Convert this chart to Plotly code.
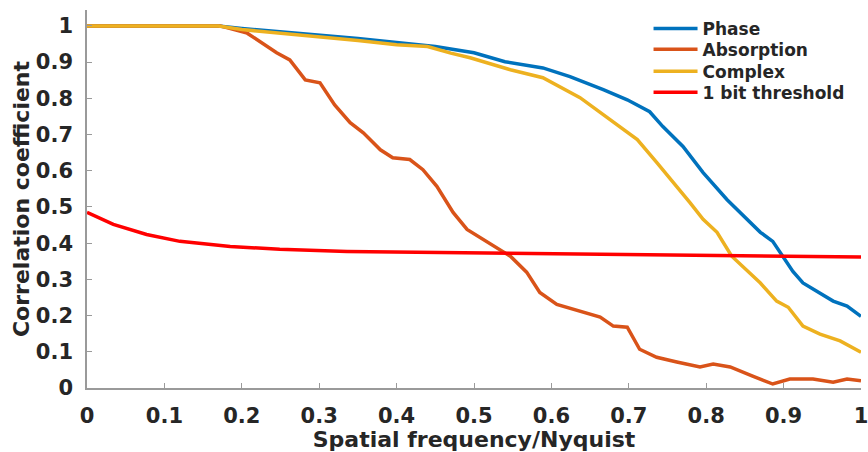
import plotly.graph_objects as go

# ---- data ----
phase_x = [0, 0.17, 0.2, 0.25, 0.3, 0.35, 0.4, 0.45, 0.5, 0.54, 0.589, 0.624, 0.667, 0.698,
           0.727, 0.744, 0.77, 0.796, 0.827, 0.87, 0.886, 0.899, 0.912, 0.925, 0.945, 0.964, 0.982, 1.0]
phase_y = [1, 1, 0.993, 0.984, 0.976, 0.965, 0.954, 0.943, 0.926, 0.901, 0.884, 0.86, 0.824, 0.796,
           0.763, 0.722, 0.667, 0.595, 0.52, 0.43, 0.405, 0.364, 0.322, 0.29, 0.265, 0.24, 0.226, 0.198]

absorption_x = [0, 0.172, 0.207, 0.224, 0.245, 0.262, 0.282, 0.301, 0.32, 0.34, 0.357, 0.379, 0.395,
                0.417, 0.434, 0.452, 0.473, 0.491, 0.512, 0.53, 0.547, 0.568, 0.585, 0.607, 0.637,
                0.663, 0.68, 0.698, 0.714, 0.736, 0.762, 0.792, 0.809, 0.831, 0.86, 0.886, 0.908,
                0.938, 0.964, 0.982, 1.0]
absorption_y = [1, 1, 0.98, 0.956, 0.926, 0.906, 0.851, 0.843, 0.782, 0.733, 0.705, 0.658, 0.636,
                0.631, 0.603, 0.557, 0.485, 0.438, 0.41, 0.388, 0.364, 0.32, 0.264, 0.231, 0.212,
                0.196, 0.171, 0.168, 0.107, 0.085, 0.072, 0.058, 0.066, 0.058, 0.033, 0.011, 0.025,
                0.025, 0.016, 0.025, 0.02]

complex_x = [0, 0.17, 0.2, 0.25, 0.3, 0.35, 0.4, 0.44, 0.47, 0.495, 0.547, 0.589, 0.637, 0.68,
             0.711, 0.736, 0.762, 0.779, 0.796, 0.814, 0.833, 0.87, 0.891, 0.906, 0.925, 0.947,
             0.973, 1.0]
complex_y = [1, 1, 0.99, 0.98, 0.972, 0.96, 0.948, 0.943, 0.925, 0.912, 0.879, 0.857, 0.802, 0.733,
             0.686, 0.623, 0.557, 0.512, 0.466, 0.43, 0.364, 0.29, 0.24, 0.223, 0.171, 0.149,
             0.13, 0.099]

threshold_x = [0, 0.034, 0.077, 0.12, 0.185, 0.249, 0.336, 0.421, 0.508, 0.7, 0.9, 1.0]
threshold_y = [0.485, 0.452, 0.424, 0.405, 0.391, 0.383, 0.377, 0.375, 0.372, 0.367, 0.364, 0.362]

x_ticks = [0, 0.1, 0.2, 0.3, 0.4, 0.5, 0.6, 0.7, 0.8, 0.9, 1]
x_tick_labels = ["0", "0.1", "0.2", "0.3", "0.4", "0.5", "0.6", "0.7", "0.8", "0.9", "1"]
y_ticks = [0, 0.1, 0.2, 0.3, 0.4, 0.5, 0.6, 0.7, 0.8, 0.9, 1]
y_tick_labels = ["0", "0.1", "0.2", "0.3", "0.4", "0.5", "0.6", "0.7", "0.8", "0.9", "1"]

FONT = "DejaVu Sans"
TXT = "#262626"
AX = "#9a9a9a"

series_names = ["Phase", "Absorption", "Complex", "1 bit threshold"]
series_colors = ["#0072BD", "#D95319", "#EDB120", "#FF0000"]
series_x = [phase_x, absorption_x, complex_x, threshold_x]
series_y = [phase_y, absorption_y, complex_y, threshold_y]

# legend rows (one small legend per entry so rows can sit tightly like the MATLAB legend)
legend_ids = ["legend", "legend2", "legend3", "legend4"]
legend_row_y = [0.95, 0.895, 0.837, 0.781]

fig = go.Figure()
for name, xs, ys, col, lid in zip(series_names, series_x, series_y, series_colors, legend_ids):
    fig.add_trace(go.Scatter(x=xs, y=ys, mode="lines", name=name, legend=lid,
                             line=dict(color=col, width=3.5)))

leg_common = dict(x=0.7255, xanchor="left", yanchor="middle",
                  bgcolor="rgba(0,0,0,0)", borderwidth=0,
                  font=dict(family=FONT, size=17, color=TXT, weight="bold"),
                  itemwidth=44)
legend_layout = {lid: dict(y=yy, **leg_common) for lid, yy in zip(legend_ids, legend_row_y)}

fig.update_layout(
    width=868, height=452,
    margin=dict(l=87, r=7, t=10, b=64),
    paper_bgcolor="white", plot_bgcolor="white",
    font=dict(family=FONT, color=TXT, size=18, weight="bold"),
    showlegend=True,
    **legend_layout,
)
fig.update_xaxes(
    range=[0, 1], tickvals=x_ticks, ticktext=x_tick_labels,
    showgrid=False, zeroline=False, showline=True, linecolor=AX, linewidth=1.5,
    ticks="inside", ticklen=5, tickcolor=AX, tickwidth=1,
    ticklabelstandoff=8, ticklabeloverflow="allow", automargin=False,
    tickfont=dict(family=FONT, size=21, color=TXT, weight="bold"),
    title=dict(text="Spatial frequency/Nyquist", standoff=2,
               font=dict(family=FONT, size=22, color=TXT, weight="bold")),
)
fig.update_yaxes(
    range=[0, 1.044], tickvals=y_ticks, ticktext=y_tick_labels,
    showgrid=False, zeroline=False, showline=True, linecolor=AX, linewidth=1.5,
    ticks="inside", ticklen=5, tickcolor=AX, tickwidth=1,
    ticklabelstandoff=8, ticklabeloverflow="allow",
    tickfont=dict(family=FONT, size=21, color=TXT, weight="bold"),
    title=dict(text="Correlation coefficient", standoff=0,
               font=dict(family=FONT, size=22, color=TXT, weight="bold")),
)

fig.write_html("out.html")
